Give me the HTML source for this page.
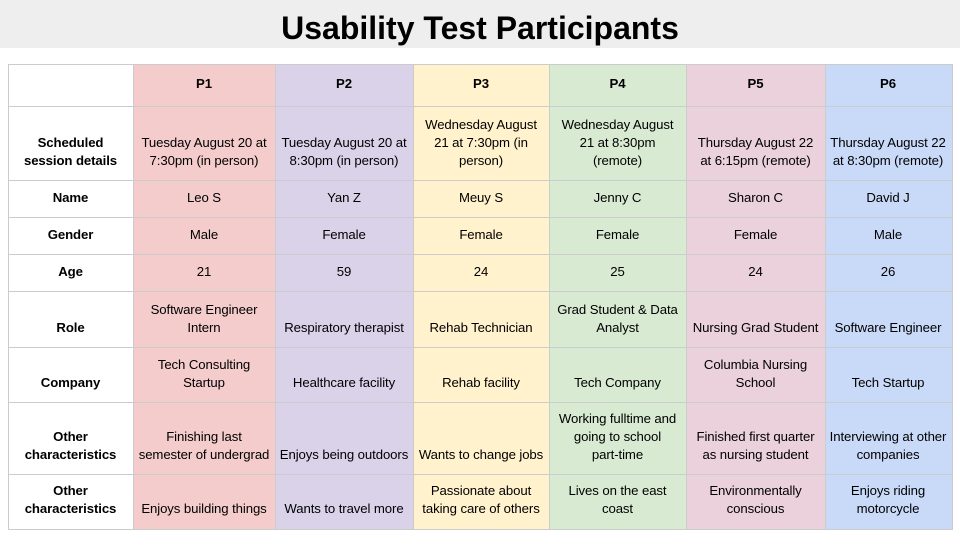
<!DOCTYPE html>
<html><head><meta charset="utf-8"><style>
body{margin:0;width:960px;height:540px;background:#fff;font-family:"Liberation Sans",Arial,sans-serif;position:relative;overflow:hidden}
#title-bar{position:absolute;left:0;top:0;width:960px;height:48px;background:#eeeeee;text-align:center;font-weight:bold;font-size:32px;line-height:56px;color:#000}
.c{position:absolute;box-sizing:border-box;border-left:1px solid #cccccc;border-top:1px solid #cccccc;display:flex;align-items:flex-end;justify-content:center;text-align:center;font-size:13.2px;line-height:18px;padding:0 2px 11px 0;color:#000;white-space:nowrap;letter-spacing:-0.1px}
.h{font-weight:bold}
</style></head><body>
<div id="title-bar">Usability Test Participants</div>
<div id="tbl"></div>
<script>
const cols=[8,133,275,413,549,686,825,952];
const rows=[64,106,180,217,254,291,347,402,474,529];
const colors=['#ffffff','#f4cccc','#d9d2e9','#fff2cc','#d9ead3','#ead1dc','#c9daf8'];
const data=[
['','P1','P2','P3','P4','P5','P6'],
['Scheduled<br>session details','Tuesday August 20 at<br>7:30pm (in person)','Tuesday August 20 at<br>8:30pm (in person)','Wednesday August<br>21 at 7:30pm (in<br>person)','Wednesday August<br>21 at 8:30pm<br>(remote)','Thursday August 22<br>at 6:15pm (remote)','Thursday August 22<br>at 8:30pm (remote)'],
['Name','Leo S','Yan Z','Meuy S','Jenny C','Sharon C','David J'],
['Gender','Male','Female','Female','Female','Female','Male'],
['Age','21','59','24','25','24','26'],
['Role','Software Engineer<br>Intern','Respiratory therapist','Rehab Technician','Grad Student &amp; Data<br>Analyst','Nursing Grad Student','Software Engineer'],
['Company','Tech Consulting<br>Startup','Healthcare facility','Rehab facility','Tech Company','Columbia Nursing<br>School','Tech Startup'],
['Other<br>characteristics','Finishing last<br>semester of undergrad','Enjoys being outdoors','Wants to change jobs','Working fulltime and<br>going to school<br>part-time','Finished first quarter<br>as nursing student','Interviewing at other<br>companies'],
['Other<br>characteristics','Enjoys building things','Wants to travel more','Passionate about<br>taking care of others','Lives on the east<br>coast','Environmentally<br>conscious','Enjoys riding<br>motorcycle']];
const t=document.getElementById('tbl');
for(let r=0;r<data.length;r++)for(let c=0;c<7;c++){
 const d=document.createElement('div');
 d.className='c'+((r==0||c==0)?' h':'');
 d.style.left=cols[c]+'px';d.style.top=rows[r]+'px';
 d.style.width=(cols[c+1]-cols[c]+1)+'px';d.style.height=(rows[r+1]-rows[r]+1)+'px';
 d.style.background=colors[c];
 if(c==6)d.style.borderRight='1px solid #cccccc';
 if(r==data.length-1)d.style.borderBottom='1px solid #cccccc';
 if(r==0)d.style.paddingBottom='14px';
 d.innerHTML=data[r][c];
 
 
 t.appendChild(d);
}
</script>
</body></html>
